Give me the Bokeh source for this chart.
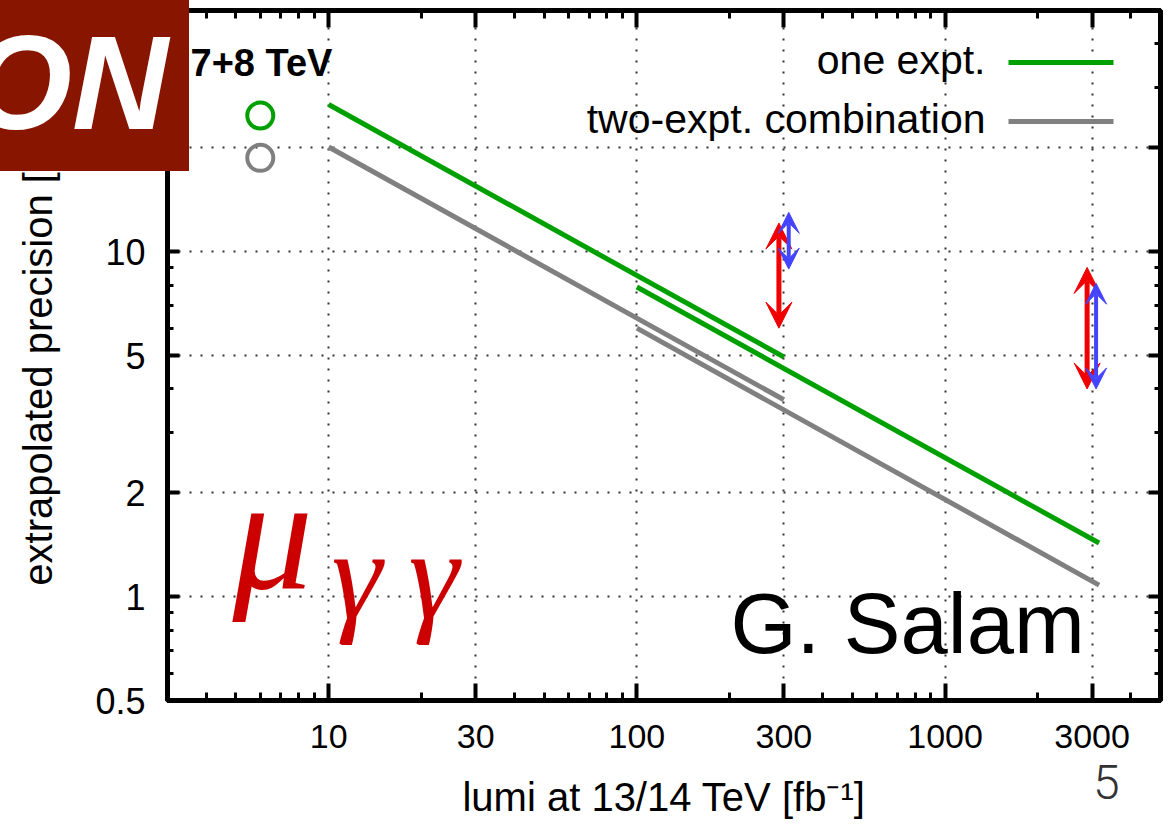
from bokeh.plotting import figure
from bokeh.models import LogAxis, FixedTicker, Label, Arrow, VeeHead, Div
from bokeh.embed import file_html
from bokeh.resources import INLINE

# ---------------- data ----------------
# run-2 projection (10 -> 300 fb-1) and HL-LHC projection (100 -> ~3000 fb-1)
lumi_run2 = [10, 300]
one_expt_run2 = [26.7, 4.95]
two_expt_run2 = [20.1, 3.72]

lumi_hl = [100, 3160]
one_expt_hl = [7.9, 1.43]
two_expt_hl = [6.0, 1.08]

run1_lumi = [6]
run1_one_expt = [24.8]
run1_two_expt = [18.7]

red_arrow_lumi = [289, 2890]
red_arrow_low = [6.0, 4.0]
red_arrow_high = [12.1, 9.0]
blue_arrow_lumi = [311, 3090]
blue_arrow_low = [8.9, 4.0]
blue_arrow_high = [13.0, 8.1]

x_ticks = [10, 30, 100, 300, 1000, 3000]
x_tick_labels = ["10", "30", "100", "300", "1000", "3000"]
x_minor_ticks = [4, 5, 6, 7, 8, 9, 20, 40, 50, 60, 70, 80, 90,
                 200, 400, 500, 600, 700, 800, 900, 2000, 4000]
y_ticks = [0.5, 1, 2, 5, 10, 20, 50]
y_tick_labels = ["0.5", "1", "2", "5", "10", "20", "50"]
y_minor_ticks = [0.6, 0.7, 0.8, 0.9, 3, 4, 6, 7, 8, 9, 30, 40]

legend_labels = ["one expt.", "two-expt. combination"]

# ---------------- styling ----------------
FONT = "Liberation Sans"
GREEN = "#00A000"
GRAY = "#808080"
RED = "#F00000"
BLUE = "#4444FF"
BOX_RED = "#881500"
MU_RED = "#CC0000"

p = figure(width=1170, height=824, x_axis_type="log", y_axis_type="log",
           x_range=(3, 5000), y_range=(0.5, 50),
           output_backend="svg", toolbar_location=None,
           min_border_left=167, min_border_right=10,
           min_border_top=10, min_border_bottom=124,
           background_fill_color="white", border_fill_color="white")

p.outline_line_color = "black"
p.outline_line_width = 5

xt = FixedTicker(ticks=x_ticks, minor_ticks=x_minor_ticks)
yt = FixedTicker(ticks=y_ticks, minor_ticks=y_minor_ticks)


def style_axis(ax, major_in, minor_in):
    ax.axis_line_color = "black"
    ax.axis_line_width = 5
    ax.major_tick_in = major_in
    ax.major_tick_out = 0
    ax.minor_tick_in = minor_in
    ax.minor_tick_out = 0
    ax.major_tick_line_width = 4
    ax.minor_tick_line_width = 3
    ax.major_tick_line_color = "black"
    ax.minor_tick_line_color = "black"


xa = p.xaxis[0]
ya = p.yaxis[0]
xa.ticker = xt
ya.ticker = yt
xa.major_label_overrides = dict(zip(x_ticks, x_tick_labels))
ya.major_label_overrides = dict(zip(y_ticks, y_tick_labels))
style_axis(xa, 17, 8)
style_axis(ya, 12, 6)
for ax in (xa, ya):
    ax.major_label_text_font = FONT
    ax.major_label_text_color = "black"
    ax.axis_label_text_font = FONT
    ax.axis_label_text_font_style = "normal"
    ax.axis_label_text_color = "black"
xa.major_label_text_font_size = "34px"
ya.major_label_text_font_size = "36px"
xa.axis_label_text_font_size = "40px"
ya.axis_label_text_font_size = "40px"
xa.major_label_standoff = 24
xa.axis_label = "lumi at 13/14 TeV [fb⁻¹]"
xa.axis_label_standoff = 24
ya.major_label_standoff = 22
ya.axis_label = "extrapolated precision [%]"
ya.axis_label_standoff = 32

# mirrored tick marks on top and right (no labels)
top_ax = LogAxis(ticker=xt, major_label_text_font_size="0px",
                 major_label_text_color=None, major_label_standoff=0)
right_ax = LogAxis(ticker=yt, major_label_text_font_size="0px",
                   major_label_text_color=None, major_label_standoff=0)
style_axis(top_ax, 17, 8)
style_axis(right_ax, 12, 6)
p.add_layout(top_ax, "above")
p.add_layout(right_ax, "right")

for g in (p.xgrid[0], p.ygrid[0]):
    g.grid_line_color = "#333333"
    g.grid_line_width = 2
    g.grid_line_dash = "2 9"

# ---------------- data marks ----------------
p.line(lumi_run2, one_expt_run2, line_color=GREEN, line_width=5)
p.line(lumi_run2, two_expt_run2, line_color=GRAY, line_width=5)
p.line(lumi_hl, one_expt_hl, line_color=GREEN, line_width=5)
p.line(lumi_hl, two_expt_hl, line_color=GRAY, line_width=5)

p.scatter(run1_lumi, run1_one_expt, marker="circle", size=26,
          fill_color=None, line_color=GREEN, line_width=4)
p.scatter(run1_lumi, run1_two_expt, marker="circle", size=26,
          fill_color=None, line_color=GRAY, line_width=4)

for xs, lo, hi, col, hs, lw in ((red_arrow_lumi, red_arrow_low, red_arrow_high, RED, 26, 5),
                                (blue_arrow_lumi, blue_arrow_low, blue_arrow_high, BLUE, 21, 4)):
    for x, a, b in zip(xs, lo, hi):
        p.add_layout(Arrow(x_start=x, y_start=a, x_end=x, y_end=b,
                           line_color=col, line_width=lw,
                           start=VeeHead(size=hs, fill_color=col, line_color=col, line_width=1),
                           end=VeeHead(size=hs, fill_color=col, line_color=col, line_width=1)))

# ---------------- legend (text left of the sample line) ----------------
for lab, col, ly, ty in ((legend_labels[0], GREEN, 638, 641),
                         (legend_labels[1], GRAY, 579, 582)):
    p.add_layout(Label(x=818, y=ty, x_units="screen", y_units="screen", text=lab,
                       text_font=FONT, text_font_size="41px", text_color="black",
                       text_align="right", text_baseline="middle"))
    p.add_layout(Arrow(x_start=841, y_start=ly, x_end=946, y_end=ly,
                       start_units="screen", end_units="screen", end=None,
                       line_color=col, line_width=5))

# ---------------- annotations inside the frame ----------------
p.add_layout(Label(x=23, y=638, x_units="screen", y_units="screen", text="7+8 TeV",
                   text_font=FONT, text_font_style="bold", text_font_size="38px",
                   text_color="black", text_baseline="middle"))

p.add_layout(Label(x=65, y=167, x_units="screen", y_units="screen", text="μ",
                   text_font="Liberation Serif", text_font_style="italic",
                   text_font_size="160px", text_color=MU_RED, text_baseline="middle"))
for gx in (164, 241):
    p.add_layout(Label(x=gx, y=126, x_units="screen", y_units="screen", text="γ",
                       text_font="Liberation Serif", text_font_style="italic",
                       text_font_size="128px", text_color=MU_RED, text_baseline="middle"))

p.add_layout(Label(x=563, y=77, x_units="screen", y_units="screen", text="G. Salam",
                   text_font=FONT, text_font_size="85px", text_color="black",
                   text_baseline="middle"))

# ---------------- slide overlays outside the frame ----------------
on_box = Div(
    text=('<div style="position:absolute;left:0px;top:0px;width:189px;height:171px;'
          'background-color:' + BOX_RED + ';overflow:hidden;">'
          '<div style="position:absolute;right:21px;top:17px;line-height:1;'
          "font-family:'Liberation Sans';font-weight:bold;font-style:italic;"
          'font-size:133px;color:white;white-space:nowrap;">ON</div></div>'),
    width=189, height=171,
    styles={"position": "absolute", "left": "0px", "top": "0px",
            "width": "189px", "height": "171px",
            "background-color": BOX_RED, "overflow": "hidden", "z-index": "10"})
page_no = Div(
    text=('<div style="position:absolute;left:0px;top:0px;line-height:1;'
          "font-family:Roboto,'Liberation Sans';font-weight:300;"
          'font-size:48px;color:#333333;white-space:nowrap;">5</div>'),
    width=40, height=50,
    styles={"position": "absolute", "left": "1093px", "top": "759px", "z-index": "10"})
p.elements = [on_box, page_no]

open("out.html", "w").write(file_html(p, INLINE))
